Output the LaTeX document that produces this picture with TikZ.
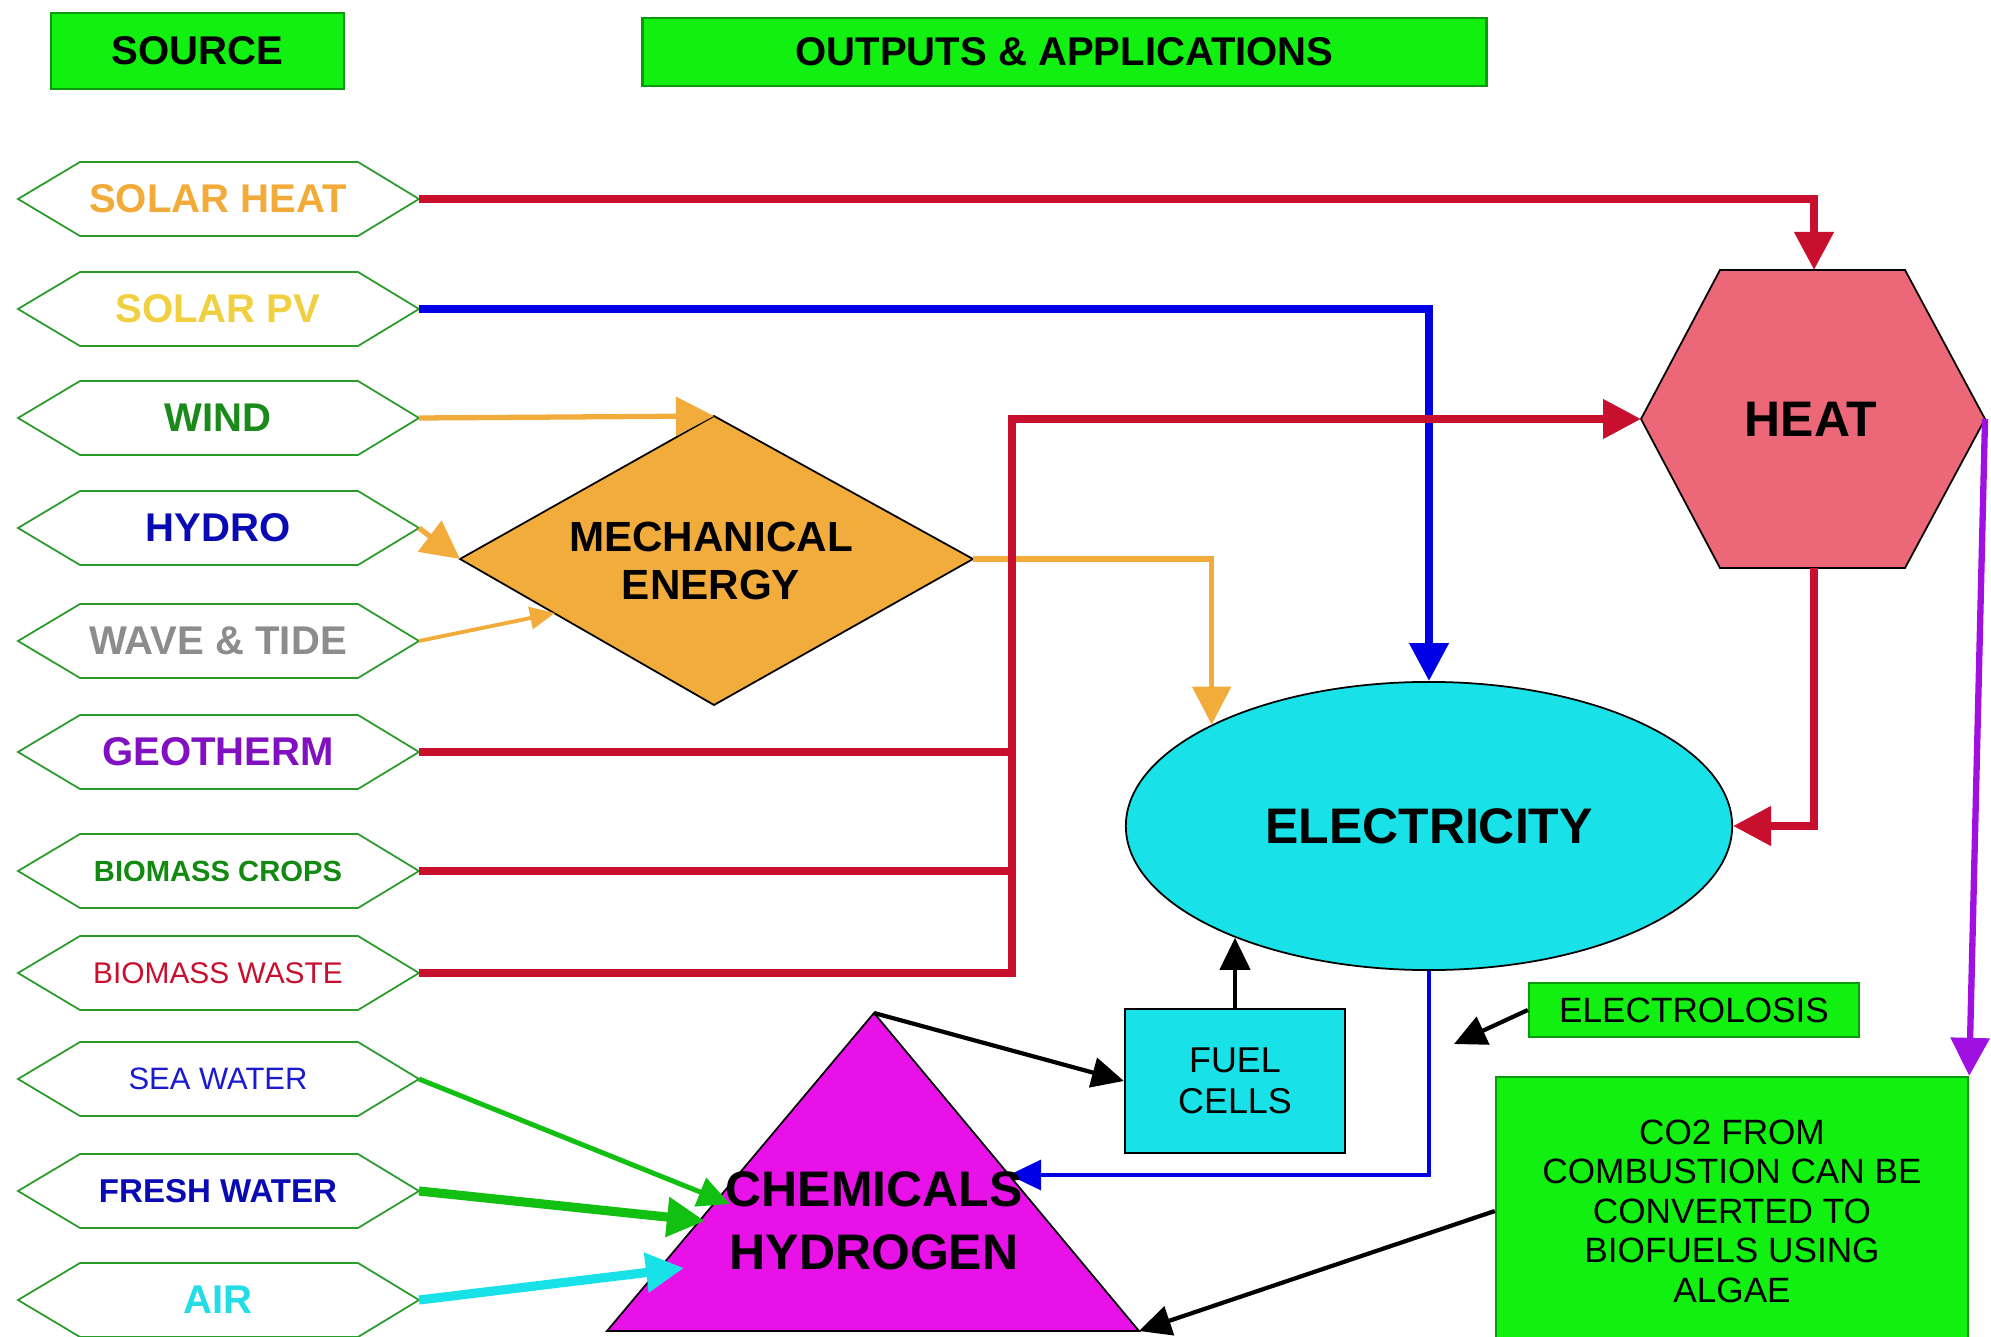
\documentclass[tikz,border=0pt]{standalone}
\usepackage{fontspec}
\setmainfont{Liberation Sans}
\usetikzlibrary{arrows.meta,shapes.geometric,calc}
\definecolor{boxgreen}{HTML}{12F012}
\definecolor{boxgreenline}{HTML}{0A9A0A}
\definecolor{hexgreen}{HTML}{2A9A2A}
\definecolor{cred}{HTML}{C8102E}
\definecolor{cblue}{HTML}{0000E6}
\definecolor{corange}{HTML}{F2AC3C}
\definecolor{cpurple}{HTML}{A010E0}
\definecolor{cgreen}{HTML}{12C012}
\definecolor{ccyan}{HTML}{18E2E8}
\definecolor{cmagenta}{HTML}{E812E8}
\definecolor{cheat}{HTML}{EC6878}
\definecolor{tsolarheat}{HTML}{F2AA38}
\definecolor{tsolarpv}{HTML}{F0D040}
\definecolor{twind}{HTML}{1A8A1A}
\definecolor{thydro}{HTML}{0A0AB4}
\definecolor{twave}{HTML}{8C8C8C}
\definecolor{tgeo}{HTML}{8010C0}
\definecolor{tcrops}{HTML}{128A12}
\definecolor{twaste}{HTML}{C8102E}
\definecolor{tsea}{HTML}{1A1AD0}
\definecolor{tfresh}{HTML}{0A0AB4}
\definecolor{tair}{HTML}{22DDE6}
\newcommand\srchex[5]{%
  \draw[hexline] (18,#2) -- (80,#2-37) -- (358,#2-37) -- (419,#2) -- (358,#2+37) -- (80,#2+37) -- cycle;
  \coordinate (#1-r) at (419,#2);
  \node[inner sep=0,text=#3,#4] (#1) at (218,#2) {#5};
}
\begin{document}
\begin{tikzpicture}[x=0.01cm,y=-0.01cm,
  hexline/.style={draw=hexgreen,line width=0.5pt},
  fbig/.style={font=\fontsize{11.4}{13.7}\selectfont\bfseries},
  fcrops/.style={font=\fontsize{8.3}{10}\selectfont\bfseries},
  fwaste/.style={font=\fontsize{8.5}{10}\selectfont},
  fsea/.style={font=\fontsize{8.8}{10}\selectfont},
  ffresh/.style={font=\fontsize{9.4}{11}\selectfont\bfseries},
  hdr/.style={draw=boxgreenline,fill=boxgreen,line width=0.8pt,inner sep=0,fbig},
  bigtip/.style={-{Triangle[length=0.38cm,width=0.38cm]}},
  midtip/.style={-{Triangle[length=0.32cm,width=0.30cm]}},
  smalltip/.style={-{Triangle[length=0.25cm,width=0.22cm]}},
  redl/.style={draw=cred,line width=2.2pt,line join=miter},
  bluel/.style={draw=cblue,line width=2.2pt,line join=miter},
  orl/.style={draw=corange,line width=1.5pt,line join=miter},
  blk/.style={draw=black,line width=1.2pt,midtip},
]
\useasboundingbox (0,0) rectangle (1991,1337);

% headers
\node[hdr,minimum width=2.93cm,minimum height=0.76cm] (src) at (197.5,51) {SOURCE};
\node[hdr,minimum width=8.43cm,minimum height=0.68cm] (out) at (1064.5,52) {OUTPUTS \& APPLICATIONS};

% sources
\srchex{sh}{199}{tsolarheat}{fbig}{SOLAR HEAT}
\srchex{pv}{309}{tsolarpv}{fbig}{SOLAR PV}
\srchex{wi}{418}{twind}{fbig}{WIND}
\srchex{hy}{528}{thydro}{fbig}{HYDRO}
\srchex{wt}{641}{twave}{fbig}{WAVE \& TIDE}
\srchex{geo}{752}{tgeo}{fbig}{GEOTHERM}
\srchex{bc}{871}{tcrops}{fcrops}{BIOMASS CROPS}
\srchex{bw}{973}{twaste}{fwaste}{BIOMASS WASTE}
\srchex{sw}{1079}{tsea}{fsea}{SEA WATER}
\srchex{fw}{1191}{tfresh}{ffresh}{FRESH WATER}
\srchex{air}{1300}{tair}{fbig}{AIR}

% mechanical energy diamond
\draw[fill=corange,draw=black,line width=0.5pt] (460,559) -- (714,416) -- (973,559) -- (714,705) -- cycle;
\coordinate (mech-l) at (460,559);
\coordinate (mech-t) at (714,416);
\coordinate (mech-r) at (973,559);
\coordinate (wtTip) at (555,613);

% heat hexagon
\draw[fill=cheat,draw=black,line width=0.5pt] (1641,419) -- (1720,270) -- (1905,270) -- (1985,419) -- (1905,568) -- (1720,568) -- cycle;
\coordinate (heat-w) at (1641,419);
\coordinate (heat-n) at (1814,270);
\coordinate (heat-s) at (1814,568);
\coordinate (heat-e) at (1985,419);

% electricity
\node[ellipse,fill=ccyan,draw=black,line width=0.5pt,minimum width=6.06cm,minimum height=2.88cm,inner sep=0,
  font=\fontsize{14.2}{17}\selectfont\bfseries] (elec) at (1429,826) {ELECTRICITY};

% fuel cells
\node[rectangle,fill=ccyan,draw=black,line width=0.6pt,minimum width=2.2cm,minimum height=1.44cm,inner sep=0,
  align=center,font=\fontsize{10.2}{11.7}\selectfont] (fc) at (1235,1081) {FUEL\\CELLS};

% electrolosis
\node[rectangle,fill=boxgreen,draw=boxgreenline,line width=0.6pt,minimum width=3.3cm,minimum height=0.54cm,inner sep=0,
  font=\fontsize{10}{12}\selectfont] (el) at (1694,1010) {ELECTROLOSIS};
\coordinate (elArr) at (1454,1044);

% co2 box
\node[rectangle,fill=boxgreen,draw=boxgreenline,line width=0.6pt,minimum width=4.72cm,minimum height=2.68cm,inner sep=0,
  align=center,font=\fontsize{10}{11.24}\selectfont] (co2) at (1732,1211)
  {CO2 FROM\\COMBUSTION CAN BE\\CONVERTED TO\\BIOFUELS USING\\ALGAE};

% chemicals triangle
\draw[fill=cmagenta,draw=black,line width=0.5pt] (874,1013) -- (1139,1331) -- (607,1331) -- cycle;
\coordinate (tri-t) at (874,1013);
\coordinate (tri-br) at (1139,1331);
\coordinate (chemR) at (1009,1175);
\coordinate (swTip) at (730,1204);
\coordinate (fwTip) at (705,1221);
\coordinate (airTip) at (684,1268);
\coordinate (busT) at (1012,419);

% connectors
\draw[redl,bigtip] (sh-r) -| (heat-n);
\draw[bluel,bigtip] (pv-r) -| (elec.north);
\draw[orl,bigtip] (wi-r) -- (mech-t);
\draw[orl,bigtip] (hy-r) -- (mech-l);
\draw[draw=corange,line width=1.1pt,smalltip] (wt-r) -- (wtTip);
\draw[orl,bigtip] (mech-r) -| (elec.155);
\draw[redl] (geo-r) -- (geo-r -| busT);
\draw[redl] (bc-r) -- (bc-r -| busT);
\draw[redl,bigtip] (bw-r) -| (busT) -- (heat-w);
\draw[redl,bigtip] (heat-s) |- (elec.east);
\draw[draw=cpurple,line width=1.8pt,bigtip] (heat-e) -- (co2.north east);
\draw[draw=cblue,line width=0.9pt,midtip] (elec.south) |- (chemR);
\draw[blk] (el.west) -- (elArr);
\draw[blk] (tri-t) -- (fc.west);
\draw[blk] (fc.north) -- (fc.north |- elec.210);
\draw[blk] (co2.west) -- (tri-br);
\draw[draw=cgreen,line width=1.4pt,midtip] (sw-r) -- (swTip);
\draw[draw=cgreen,line width=2.6pt,bigtip] (fw-r) -- (fwTip);
\draw[draw=ccyan,line width=2.6pt,bigtip] (air-r) -- (airTip);

% labels on path shapes
\node[inner sep=0,align=center,font=\fontsize{12}{13.7}\selectfont\bfseries] (mech) at (711,561) {MECHANICAL\\ENERGY};
\node[inner sep=0,font=\fontsize{14.2}{17}\selectfont\bfseries] (heat) at (1811,419) {HEAT};
\node[inner sep=0,align=center,font=\fontsize{14.2}{18}\selectfont\bfseries] (chem) at (874,1221) {CHEMICALS\\HYDROGEN};
\end{tikzpicture}
\end{document}
